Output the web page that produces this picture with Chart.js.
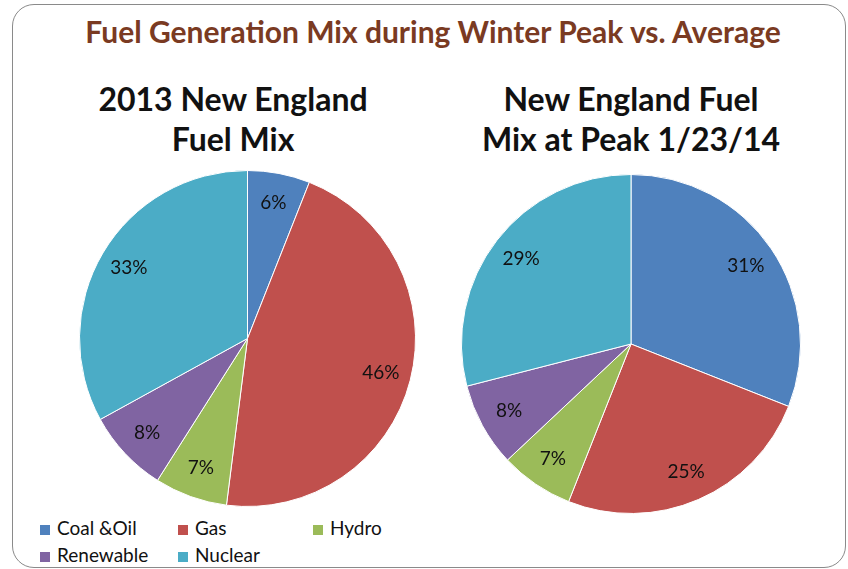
<!DOCTYPE html>
<html lang="en">
<head>
<meta charset="UTF-8">
<title>Fuel Generation Mix during Winter Peak vs. Average</title>
<script src="https://cdn.jsdelivr.net/npm/chart.js"></script>
<style>
  html, body { margin: 0; padding: 0; background: #fff; }
  body { width: 848px; height: 569px; position: relative; overflow: hidden; font-family: Lato, "Open Sans", sans-serif; }
  .frame { position: absolute; left: 12px; top: 4px; width: 832px; height: 562px; border: 1px solid #8a8a8a; border-radius: 22px; }
  .title { position: absolute; left: 0; width: 866px; top: 13px; text-align: center; color: #7a3a22; font-weight: bold; font-size: 30px; }
  .sub { position: absolute; text-align: center; font-weight: bold; font-size: 32px; line-height: 40px; color: #111; }
  .pie { position: absolute; }
  .legend { position: absolute; left: 40px; top: 516px; font-size: 19px; color: #111; }
  .legend span { position: absolute; white-space: nowrap; }
  .legend i { display: inline-block; width: 10px; height: 10px; margin-right: 7px; }
</style>
</head>
<body>
<div class="frame"></div>
<div class="title">Fuel Generation Mix during Winter Peak vs. Average</div>
<div class="sub" style="left:53px;width:360px;top:79px;">2013 New England<br>Fuel Mix</div>
<div class="sub" style="left:451px;width:360px;top:79px;">New England Fuel<br>Mix at Peak 1/23/14</div>
<div class="pie" style="left:79px;top:170px;width:337px;height:337px;"><canvas id="pie2013"></canvas></div>
<div class="pie" style="left:461px;top:174px;width:340px;height:340px;"><canvas id="piePeak"></canvas></div>
<div class="legend" id="legend"></div>
<script>
const fuels = ["Coal &Oil", "Gas", "Hydro", "Renewable", "Nuclear"];
const colors = ["#4f81bd", "#c0504d", "#9bbb59", "#8064a2", "#4bacc6"];
const mix2013 = [6, 46, 7, 8, 33];
const mixPeak = [31, 25, 7, 8, 29];

// percent labels inside each slice
const sliceLabels = {
  id: "sliceLabels",
  afterDatasetsDraw(chart) {
    const ctx = chart.ctx;
    const meta = chart.getDatasetMeta(0);
    ctx.save();
    ctx.font = "19px Lato, sans-serif";
    ctx.fillStyle = "#111";
    ctx.textAlign = "center";
    ctx.textBaseline = "middle";
    meta.data.forEach((arc, i) => {
      const p = arc.getProps(["x", "y", "startAngle", "endAngle", "outerRadius"], true);
      const a = (p.startAngle + p.endAngle) / 2;
      const r = p.outerRadius * 0.82;
      ctx.fillText(chart.data.datasets[0].data[i] + "%", p.x + Math.cos(a) * r, p.y + Math.sin(a) * r);
    });
    ctx.restore();
  }
};

function makePie(id, values) {
  new Chart(document.getElementById(id), {
    type: "pie",
    data: {
      labels: fuels,
      datasets: [{ data: values, backgroundColor: colors, borderColor: "#ffffff", borderWidth: 1 }]
    },
    options: {
      responsive: true,
      maintainAspectRatio: false,
      animation: false,
      plugins: { legend: { display: false }, tooltip: { enabled: false } }
    },
    plugins: [sliceLabels]
  });
}
makePie("pie2013", mix2013);
makePie("piePeak", mixPeak);

// legend in three columns
const legend = document.getElementById("legend");
const colX = [0, 138, 273];
fuels.forEach((f, i) => {
  const s = document.createElement("span");
  s.style.left = colX[i % 3] + "px";
  s.style.top = Math.floor(i / 3) * 27 + "px";
  s.innerHTML = '<i style="background:' + colors[i] + '"></i>' + f.replace("&", "&amp;");
  legend.appendChild(s);
});
</script>
</body>
</html>
